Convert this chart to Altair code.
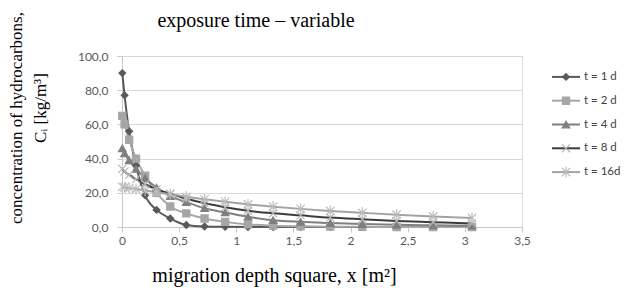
import altair as alt
import pandas as pd

# ---- data ----
x_vals = [0.0025, 0.0225, 0.0625, 0.1225, 0.2025, 0.3025, 0.4225, 0.5625, 0.7225,
          0.9025, 1.1025, 1.3225, 1.5625, 1.8225, 2.1025, 2.4025, 2.7225, 3.0625]
series_names = ["t = 1 d", "t = 2 d", "t = 4 d", "t = 8 d", "t = 16d"]
c_1d = [90, 77, 56, 36, 18.5, 10, 5, 1.2, 0.3, 0.1, 0, 0, 0, 0, 0, 0, 0, 0]
c_2d = [65, 60, 51, 40, 30, 20, 12, 8, 5, 3, 1.5, 0.8, 0.4, 0.2, 0.1, 0, 0, 0]
c_4d = [46, 43, 39, 34, 28.5, 23, 18, 14.5, 11, 8.5, 6, 4, 3, 2.3, 1.7, 1.3, 1, 0.8]
c_8d = [34, 32.5, 30.5, 28, 25, 22, 19.5, 16.5, 14, 11.5, 9.5, 8, 6.8, 5.5, 4.5, 3.5, 2.8, 2.1]
c_16d = [23.5, 23.2, 22.8, 22.2, 21.3, 20.3, 19.2, 17.7, 16.2, 14.7, 13.2, 11.9,
         10.6, 9.4, 8.3, 7.2, 6.2, 5.3]
y_ticks = [0, 20, 40, 60, 80, 100]
x_ticks = [0, 0.5, 1, 1.5, 2, 2.5, 3, 3.5]
chart_title = "exposure time – variable"
x_title = "migration depth square, x [m²]"
y_title_1 = "concentration of hydrocarbons,"
y_title_2 = "Cᵢ [kg/m³]"

rows = []
for k, (name, vals) in enumerate(zip(series_names, [c_1d, c_2d, c_4d, c_8d, c_16d])):
    for x, v in zip(x_vals, vals):
        rows.append({"series": name, "k": k, "x": x, "c": v})
df = pd.DataFrame(rows)
legend_df = pd.DataFrame({"series": series_names})

# ---- styles ----
line_colors = ["#595959", "#a6a6a6", "#7f7f7f", "#3c3c3c", "#a3a3a3"]
marker_fill = ["#595959", "#a6a6a6", "#7f7f7f", "#bcbcbc", "#c4c4c4"]
marker_stroke = ["#595959", "#a6a6a6", "#7f7f7f", "#b4b4b4", "#bdbdbd"]
X_PATH = "M-1,-1L1,1M-1,1L1,-1"
STAR_PATH = "M-1,-1L1,1M-1,1L1,-1M0,-1.3L0,1.3"
shapes = ["diamond", "square", "triangle-up", X_PATH, STAR_PATH]
sizes = [45, 70, 60, 60, 75]

W, H = 400, 171
sans = "Lato"
serif = "Liberation Serif"

color_s = alt.Scale(domain=series_names, range=line_colors)
fill_s = alt.Scale(domain=series_names, range=marker_fill)
stroke_s = alt.Scale(domain=series_names, range=marker_stroke)
shape_s = alt.Scale(domain=series_names, range=shapes)
size_s = alt.Scale(domain=series_names, range=sizes)
x_s = alt.Scale(domain=[0, 3.5], nice=False)
y_s = alt.Scale(domain=[0, 100], nice=False)

x_axis = alt.Axis(
    values=x_ticks, labelExpr="replace(toString(datum.value), '.', ',')",
    grid=False, domainColor="#c8c8c8", tickColor="#c8c8c8", tickSize=5,
    labelFont=sans, labelFontSize=12, labelColor="#595959", labelPadding=3,
    labelFlush=False,
    title=x_title, titleFont=serif, titleFontSize=20,
    titleFontWeight="normal", titleColor="black", titleX=152, titleY=54,
    titleAlign="center", titleBaseline="alphabetic",
)
y_axis = alt.Axis(
    values=y_ticks, labelExpr="replace(format(datum.value, '.1f'), '.', ',')",
    grid=True, gridColor="#d9d9d9", domainColor="#c8c8c8", tickColor="#c8c8c8",
    tickSize=5, labelFont=sans, labelFontSize=12, labelColor="#595959",
    labelPadding=9, labelFlush=False, title=None,
)

base = alt.Chart(df)
lines = base.mark_line(strokeWidth=2, interpolate="monotone").encode(
    x=alt.X("x:Q", scale=x_s, axis=x_axis),
    y=alt.Y("c:Q", scale=y_s, axis=y_axis),
    color=alt.Color("series:N", scale=color_s, legend=None),
    order=alt.Order("x:Q"),
)
points = base.mark_point(filled=True, strokeWidth=1.2, opacity=1).encode(
    x=alt.X("x:Q", scale=x_s),
    y=alt.Y("c:Q", scale=y_s, axis=None),
    fill=alt.Fill("series:N", scale=fill_s, legend=None),
    stroke=alt.Stroke("series:N", scale=stroke_s, legend=None),
    shape=alt.Shape("series:N", scale=shape_s, legend=None),
    size=alt.Size("series:N", scale=size_s, legend=None),
)

leg_y = alt.Y("series:N", scale=alt.Scale(domain=series_names, range=[9, 128]),
              axis=None)
leg_base = alt.Chart(legend_df)
leg_line = leg_base.mark_rule(strokeWidth=2).encode(
    x=alt.value(430), x2=alt.value(458), y=leg_y,
    color=alt.Color("series:N", scale=color_s, legend=None),
)
leg_pts = leg_base.mark_point(filled=True, strokeWidth=1.2, opacity=1).encode(
    x=alt.value(444), y=leg_y,
    fill=alt.Fill("series:N", scale=fill_s, legend=None),
    stroke=alt.Stroke("series:N", scale=stroke_s, legend=None),
    shape=alt.Shape("series:N", scale=shape_s, legend=None),
    size=alt.Size("series:N", scale=size_s, legend=None),
)
leg_txt = leg_base.mark_text(align="left", baseline="middle", font=sans,
                             fontSize=11.5, color="#404040").encode(
    x=alt.value(462), y=leg_y, text="series:N",
)

# titles as text marks
title_mark = alt.Chart(pd.DataFrame({"t": [chart_title]})).mark_text(
    font=serif, fontSize=20, color="black", align="center", baseline="alphabetic"
).encode(x=alt.value(134), y=alt.value(-29), text="t:N")
yt1 = alt.Chart(pd.DataFrame({"t": [y_title_1]})).mark_text(
    font=serif, fontSize=17, color="black", align="center", baseline="alphabetic",
    angle=270,
).encode(x=alt.value(-100), y=alt.value(62), text="t:N")
yt2 = alt.Chart(pd.DataFrame({"t": [y_title_2]})).mark_text(
    font=serif, fontSize=17, color="black", align="center", baseline="alphabetic",
    angle=270,
).encode(x=alt.value(-76), y=alt.value(52), text="t:N")

chart = alt.layer(lines, points, leg_line, leg_pts, leg_txt,
                  title_mark, yt1, yt2).resolve_scale(
    y="independent"
).properties(
    width=W, height=H,
    autosize=alt.AutoSizeParams(type="none"),
    padding={"left": 114, "top": 48, "right": 104, "bottom": 62},
).configure_view(stroke=None).configure(background="white")

chart.save("out.html", embed_options={"renderer": "svg", "actions": False})
